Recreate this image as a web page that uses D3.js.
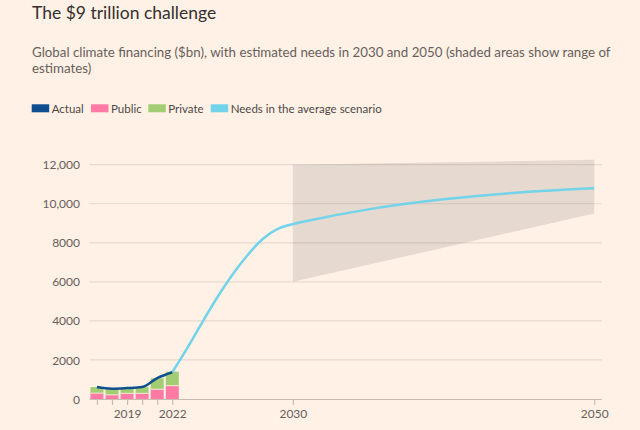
<!DOCTYPE html>
<html><head><meta charset="utf-8">
<script src="https://cdn.jsdelivr.net/npm/d3@7"></script>
<style>
html,body{margin:0;padding:0;background:#fff1e5;}
svg{display:block;font-family:Lato,"Open Sans",sans-serif;}
</style></head>
<body><svg id="c" width="640" height="430"></svg>
<script>
// ---- data ----
const years = [2017, 2018, 2019, 2020, 2021, 2022];
const publicVals = [300, 210, 290, 290, 500, 680];
const privateVals = [310, 320, 280, 320, 560, 720];
const actualVals = [610, 530, 560, 610, 1070, 1370];
const needYears = [2022, 2023, 2024, 2025, 2026, 2027, 2028, 2029, 2030, 2035, 2040, 2045, 2050];
const needVals = [1370, 2600, 3950, 5250, 6400, 7400, 8250, 8760, 8980, 9760, 10250, 10600, 10800];
const rangeYears = [2030, 2050];
const rangeLow = [6000, 9500];
const rangeHigh = [12000, 12250];
const yTicks = [0, 2000, 4000, 6000, 8000, 10000, 12000];
const xTicks = [2017, 2018, 2019, 2020, 2021, 2022, 2030, 2050];
const xTickLabels = [2019, 2022, 2030, 2050];
const legendLabels = ["Actual", "Public", "Private", "Needs in the average scenario"];
const legendColors = ["#0f4f8f", "#ff7aa5", "#a3cd72", "#72d3ea"];

const svg = d3.select("#c");
const x = d3.scaleLinear().domain([2016.5, 2050.5]).range([89.4, 601.8]);
const y = d3.scaleLinear().domain([0, 12000]).range([399, 164.7]);

// titles
svg.append("text").attr("x", 32).attr("y", 19).attr("fill", "#33302e")
  .style("font-size", "17.5px").text("The $9 trillion challenge");
const sub = svg.append("text").attr("fill", "#66605c").style("font-size", "13.3px");
sub.append("tspan").attr("x", 32).attr("y", 56.5)
  .text("Global climate financing ($bn), with estimated needs in 2030 and 2050 (shaded areas show range of");
sub.append("tspan").attr("x", 32).attr("y", 73).text("estimates)");

// legend
const legX = [31.7, 91, 148.3, 210.7];
legendLabels.forEach((l, i) => {
  svg.append("rect").attr("x", legX[i]).attr("y", 104.3).attr("width", 17.5).attr("height", 8)
    .attr("fill", legendColors[i]);
  svg.append("text").attr("x", legX[i] + 20).attr("y", 112.5).attr("fill", "#4d4845")
    .style("font-size", "11.5px").text(l);
});

// gridlines
svg.append("g").selectAll("line").data(yTicks.filter(d => d > 0)).join("line")
  .attr("x1", 89.4).attr("x2", 601.8).attr("y1", d => y(d)).attr("y2", d => y(d))
  .attr("stroke", "#e6d9ce").attr("stroke-width", 1.2);

// y axis labels
const yAxis = svg.append("g").attr("transform", "translate(80,0)")
  .call(d3.axisLeft(y).tickValues(yTicks).tickSize(0).tickPadding(0)
    .tickFormat(d => d >= 10000 ? d3.format(",")(d) : String(d)));
yAxis.select(".domain").remove();
yAxis.selectAll("text").attr("fill", "#66605c").style("font-size", "12px")
  .style("font-family", "Lato,'Open Sans',sans-serif").attr("dy", "0.34em");

// shaded range
const area = d3.area().x(d => x(d[0])).y0(d => y(d[1])).y1(d => y(d[2]));
svg.append("path").datum(rangeYears.map((yr, i) => [yr, rangeLow[i], rangeHigh[i]]))
  .attr("d", area).attr("fill", "#66605c").attr("fill-opacity", 0.16);

// bars
const bw = 13;
const bars = svg.append("g");
years.forEach((yr, i) => {
  bars.append("rect").attr("x", x(yr) - bw / 2).attr("width", bw)
    .attr("y", y(publicVals[i])).attr("height", y(0) - y(publicVals[i]))
    .attr("fill", legendColors[1]);
  bars.append("rect").attr("x", x(yr) - bw / 2).attr("width", bw)
    .attr("y", y(publicVals[i] + privateVals[i])).attr("height", y(publicVals[i]) - y(publicVals[i] + privateVals[i]))
    .attr("fill", legendColors[2]);
  bars.append("line").attr("x1", x(yr) - bw / 2).attr("x2", x(yr) + bw / 2)
    .attr("y1", y(publicVals[i])).attr("y2", y(publicVals[i]))
    .attr("stroke", "#fff1e5").attr("stroke-width", 0.8);
});

// x axis
const xAxis = svg.append("g").attr("transform", `translate(0,${y(0)})`)
  .call(d3.axisBottom(x).tickValues(xTicks).tickSize(6).tickPadding(4)
    .tickFormat(d => xTickLabels.includes(d) ? String(d) : ""));
xAxis.select(".domain").attr("d", `M${x.range()[0]},0.5H${x.range()[1]}`).attr("stroke", "#c9bcb1").attr("stroke-width", 1.2);
xAxis.selectAll(".tick line").attr("stroke", "#c9bcb1").attr("stroke-width", 1.2);
xAxis.selectAll("text").attr("fill", "#66605c").style("font-size", "12px")
  .style("font-family", "Lato,'Open Sans',sans-serif");

// lines
svg.append("path").datum(needYears.map((yr, i) => [yr, needVals[i]]))
  .attr("d", d3.line().x(d => x(d[0])).y(d => y(d[1])).curve(d3.curveBasis))
  .attr("fill", "none").attr("stroke", legendColors[3]).attr("stroke-width", 2.5);
svg.append("path").datum(years.map((yr, i) => [yr, actualVals[i]]))
  .attr("d", d3.line().x(d => x(d[0])).y(d => y(d[1])).curve(d3.curveMonotoneX)).attr("fill", "none")
  .attr("stroke", legendColors[0]).attr("stroke-width", 2.5).attr("stroke-linejoin", "round");
</script></body></html>
